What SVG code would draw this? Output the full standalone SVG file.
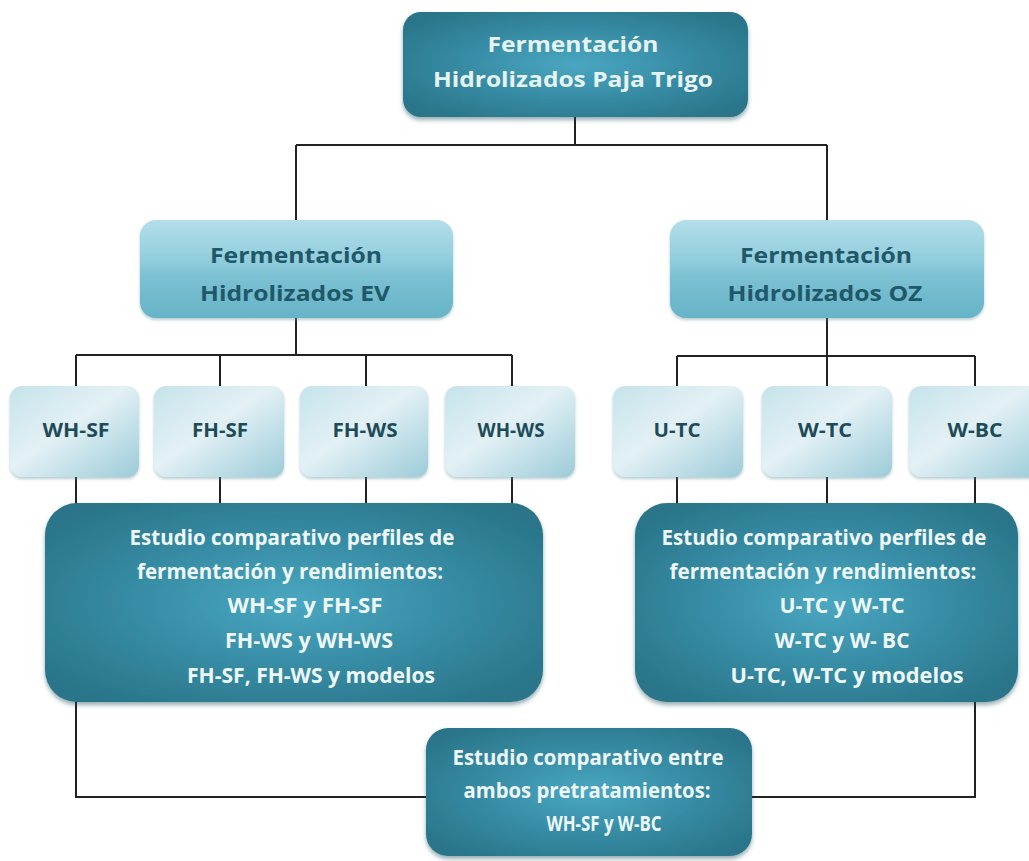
<svg xmlns="http://www.w3.org/2000/svg" width="1029" height="861" viewBox="0 0 1029 861">
<defs>
<radialGradient id="gDark" cx="50%" cy="50%" r="62%">
<stop offset="0" stop-color="#4aa7c1"/>
<stop offset="0.6" stop-color="#3488a0"/>
<stop offset="1" stop-color="#2a7589"/>
</radialGradient>
<linearGradient id="gMid" x1="0" y1="0" x2="0" y2="1">
<stop offset="0" stop-color="#b4dfea"/>
<stop offset="0.45" stop-color="#8dcbdb"/>
<stop offset="0.55" stop-color="#7dc2d3"/>
<stop offset="1" stop-color="#66b3c7"/>
</linearGradient>
<linearGradient id="gLight" x1="0" y1="0" x2="1" y2="1">
<stop offset="0" stop-color="#c6e3eb"/>
<stop offset="0.45" stop-color="#e3f1f5"/>
<stop offset="1" stop-color="#9ccbd8"/>
</linearGradient>
<filter id="sh" x="-10%" y="-10%" width="120%" height="130%">
<feDropShadow dx="0" dy="3" stdDeviation="2" flood-color="#1a4a57" flood-opacity="0.45"/>
</filter>
<filter id="shL" x="-10%" y="-10%" width="120%" height="130%">
<feDropShadow dx="0" dy="2" stdDeviation="1.5" flood-color="#5a8f9c" flood-opacity="0.45"/>
</filter>
</defs>
<style>
.dark{fill:url(#gDark);filter:url(#sh)}
.mid{fill:url(#gMid);filter:url(#shL)}
.light{fill:url(#gLight);filter:url(#shL)}
text{font-family:"Open Sans","Liberation Sans",sans-serif;font-weight:bold;text-anchor:middle}
.tw{fill:#eef8f9;font-size:21px}
.tt{fill:#e6f4f5;font-size:22px}
.td{fill:#1f5868;font-size:22px}
.tc{fill:#1e4b58;font-size:20px}
.ln{fill:none;stroke:#222;stroke-width:2}
</style>
<rect width="1029" height="861" fill="#ffffff"/>
<g id="connectors">
<path class="ln" d="M575 117 V145 M296 145 H827 M296 145 V220 M827 145 V220"/>
<path class="ln" d="M296 318 V355 M76 355 H512 M76 355 V386 M220 355 V386 M366 355 V386 M512 355 V386"/>
<path class="ln" d="M827 318 V356 M677 356 H975 M677 356 V386 M827 356 V386 M975 356 V386"/>
<path class="ln" d="M76 477 V504 M220 477 V504 M366 477 V504 M512 477 V504 M677 477 V504 M827 477 V504 M975 477 V504"/>
<path class="ln" d="M76 700 V797 H426 M752 797 H975 V700"/>
</g>
<g id="n-top">
<rect class="dark" x="403" y="12" width="345" height="105" rx="18"/>
<text class="tt" x="573" y="52" textLength="171" lengthAdjust="spacingAndGlyphs">Fermentación</text>
<text class="tt" x="573" y="87" textLength="280" lengthAdjust="spacingAndGlyphs">Hidrolizados Paja Trigo</text>
</g>
<g id="n-ev">
<rect class="mid" x="140" y="220" width="313" height="98" rx="16"/>
<text class="td" x="296" y="263" textLength="172" lengthAdjust="spacingAndGlyphs">Fermentación</text>
<text class="td" x="295" y="301" textLength="190" lengthAdjust="spacingAndGlyphs">Hidrolizados EV</text>
</g>
<g id="n-oz">
<rect class="mid" x="670" y="220" width="314" height="98" rx="16"/>
<text class="td" x="826" y="263" textLength="172" lengthAdjust="spacingAndGlyphs">Fermentación</text>
<text class="td" x="825" y="301" textLength="195" lengthAdjust="spacingAndGlyphs">Hidrolizados OZ</text>
</g>
<g id="n-whsf">
<rect class="light" x="10" y="386" width="129" height="91" rx="12"/>
<text class="tc" x="76" y="437" textLength="67" lengthAdjust="spacingAndGlyphs">WH-SF</text>
</g>
<g id="n-fhsf">
<rect class="light" x="154" y="386" width="130" height="91" rx="12"/>
<text class="tc" x="220" y="437" textLength="56" lengthAdjust="spacingAndGlyphs">FH-SF</text>
</g>
<g id="n-fhws">
<rect class="light" x="300" y="386" width="128" height="91" rx="12"/>
<text class="tc" x="365" y="437" textLength="65" lengthAdjust="spacingAndGlyphs">FH-WS</text>
</g>
<g id="n-whws">
<rect class="light" x="445" y="386" width="130" height="91" rx="12"/>
<text class="tc" x="511" y="437" textLength="67" lengthAdjust="spacingAndGlyphs">WH-WS</text>
</g>
<g id="n-utc">
<rect class="light" x="613" y="386" width="130" height="91" rx="12"/>
<text class="tc" x="677" y="437" textLength="47" lengthAdjust="spacingAndGlyphs">U-TC</text>
</g>
<g id="n-wtc">
<rect class="light" x="762" y="386" width="130" height="91" rx="12"/>
<text class="tc" x="825" y="437" textLength="54" lengthAdjust="spacingAndGlyphs">W-TC</text>
</g>
<g id="n-wbc">
<rect class="light" x="909" y="386" width="132" height="91" rx="12"/>
<text class="tc" x="975" y="437" textLength="55" lengthAdjust="spacingAndGlyphs">W-BC</text>
</g>
<g id="n-ev-study">
<rect class="dark" x="45" y="503" width="498" height="199" rx="32"/>
<text class="tw" x="292" y="545" textLength="325" lengthAdjust="spacingAndGlyphs">Estudio comparativo perfiles de</text>
<text class="tw" x="290" y="579" textLength="306" lengthAdjust="spacingAndGlyphs">fermentación y rendimientos:</text>
<text class="tw" x="305" y="613" textLength="155" lengthAdjust="spacingAndGlyphs">WH-SF y FH-SF</text>
<text class="tw" x="309" y="648" textLength="168" lengthAdjust="spacingAndGlyphs">FH-WS y WH-WS</text>
<text class="tw" x="311" y="683" textLength="248" lengthAdjust="spacingAndGlyphs">FH-SF, FH-WS y modelos</text>
</g>
<g id="n-oz-study">
<rect class="dark" x="635" y="503" width="383" height="199" rx="32"/>
<text class="tw" x="824" y="545" textLength="325" lengthAdjust="spacingAndGlyphs">Estudio comparativo perfiles de</text>
<text class="tw" x="823" y="579" textLength="307" lengthAdjust="spacingAndGlyphs">fermentación y rendimientos:</text>
<text class="tw" x="842" y="613" textLength="125" lengthAdjust="spacingAndGlyphs">U-TC y W-TC</text>
<text class="tw" x="842" y="648" textLength="135" lengthAdjust="spacingAndGlyphs">W-TC y W- BC</text>
<text class="tw" x="847" y="683" textLength="233" lengthAdjust="spacingAndGlyphs">U-TC, W-TC y modelos</text>
</g>
<g id="n-final">
<rect class="dark" x="426" y="728" width="326" height="128" rx="22"/>
<text class="tw" x="588" y="765" textLength="271" lengthAdjust="spacingAndGlyphs">Estudio comparativo entre</text>
<text class="tw" x="587" y="798" textLength="247" lengthAdjust="spacingAndGlyphs">ambos pretratamientos:</text>
<text class="tw" x="604" y="831" textLength="115" lengthAdjust="spacingAndGlyphs">WH-SF y W-BC</text>
</g>
</svg>
